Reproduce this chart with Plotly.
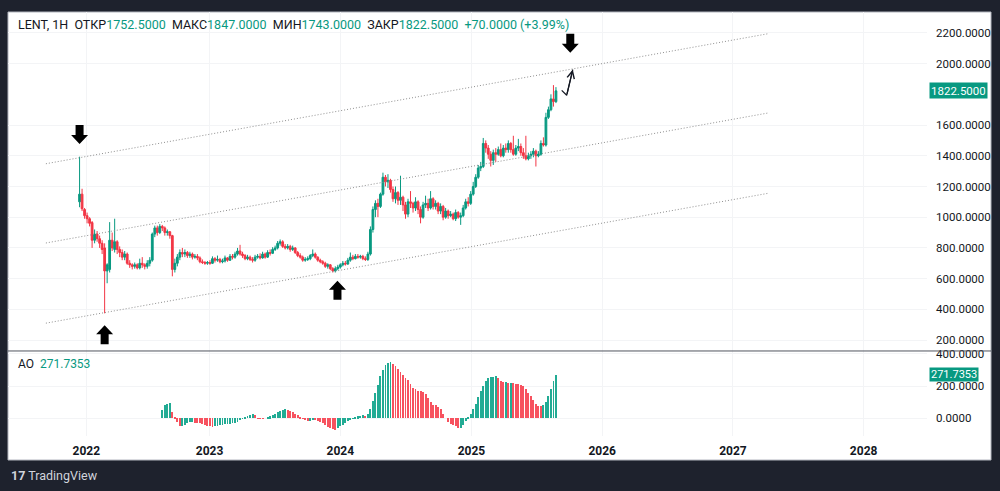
import pandas as pd
import plotly.graph_objects as go

# ------------------------------------------------------------------ data
# weekly bars; MOEX was closed 28 Feb - 20 Mar 2022 (no bars there)
closure = ("2022-02-25", "2022-03-18")
dates = [d for d in pd.date_range("2021-12-13", "2025-08-25", freq="7D")
         if not (pd.Timestamp(closure[0]) <= d <= pd.Timestamp(closure[1]))]

opens = [
    1100, 1150, 1050, 1010, 990, 965, 850, 890, 860, 830,
    800, 650, 660, 850, 790, 840, 790, 770, 740, 760,
    700, 690, 680, 690, 670, 700, 690, 680, 700, 720,
    890, 930, 900, 940, 930, 900, 905, 880, 660, 700,
    740, 770, 760, 770, 750, 760, 740, 745, 735, 710,
    705, 700, 705, 700, 730, 720, 725, 710, 715, 735,
    720, 745, 740, 760, 780, 760, 750, 730, 740, 725,
    720, 740, 745, 735, 760, 740, 770, 765, 790, 800,
    830, 840, 810, 800, 810, 790, 800, 770, 750, 740,
    720, 725, 730, 750, 760, 740, 720, 710, 700, 680,
    690, 665, 650, 665, 675, 690, 700, 695, 720, 740,
    730, 745, 740, 745, 730, 725, 760, 920, 1050, 1090,
    1070, 1150, 1260, 1230, 1240, 1180, 1120, 1160, 1110, 1130,
    1080, 1020, 1100, 1090, 1060, 1100, 1050, 1000, 1080, 1090,
    1060, 1120, 1070, 1090, 1040, 1070, 1000, 1040, 1010, 1020,
    990, 1030, 1000, 1010, 1060, 1100, 1090, 1150, 1200, 1260,
    1320, 1330, 1480, 1450, 1410, 1370, 1420, 1410, 1440, 1400,
    1450, 1440, 1480, 1440, 1410, 1450, 1460, 1420, 1400, 1380,
    1400, 1410, 1430, 1400, 1410, 1480, 1470, 1650, 1700, 1770,
    1752.5,
]
closes = [
    1150, 1055, 1010, 990, 960, 850, 890, 860, 830, 790,
    650, 690, 850, 800, 840, 790, 770, 740, 760, 700,
    690, 680, 690, 670, 700, 690, 680, 700, 720, 890,
    930, 900, 940, 930, 900, 905, 880, 660, 700, 740,
    770, 760, 770, 750, 760, 740, 745, 735, 710, 705,
    700, 705, 700, 730, 720, 725, 710, 715, 735, 720,
    745, 740, 760, 780, 760, 750, 730, 740, 725, 720,
    740, 745, 735, 760, 740, 770, 765, 790, 800, 830,
    840, 810, 800, 810, 790, 800, 770, 750, 740, 720,
    725, 730, 750, 760, 740, 720, 710, 700, 680, 690,
    665, 650, 665, 675, 690, 700, 695, 720, 740, 730,
    745, 740, 745, 730, 725, 760, 920, 1050, 1090, 1070,
    1150, 1260, 1230, 1240, 1180, 1120, 1160, 1110, 1130, 1080,
    1020, 1100, 1090, 1060, 1100, 1050, 1000, 1080, 1090, 1060,
    1120, 1070, 1090, 1040, 1070, 1000, 1040, 1010, 1020, 990,
    1030, 1000, 1010, 1060, 1100, 1090, 1150, 1200, 1260, 1320,
    1330, 1480, 1450, 1410, 1370, 1420, 1410, 1440, 1400, 1450,
    1440, 1480, 1440, 1410, 1450, 1460, 1420, 1400, 1380, 1400,
    1410, 1430, 1400, 1410, 1480, 1470, 1650, 1700, 1770, 1752.5,
    1822.5,
]
highs = [
    1394, 1185, 1060, 1030, 1000, 975, 920, 910, 880, 850,
    830, 700, 968, 900, 990, 850, 810, 790, 780, 770,
    720, 700, 705, 700, 730, 740, 700, 720, 740, 900,
    945, 945, 955, 950, 940, 920, 910, 885, 730, 760,
    790, 800, 790, 780, 775, 770, 760, 760, 745, 725,
    715, 715, 720, 745, 740, 750, 735, 730, 750, 740,
    760, 760, 775, 800, 820, 775, 760, 755, 750, 740,
    755, 760, 765, 775, 770, 785, 790, 805, 815, 845,
    855, 850, 825, 825, 820, 815, 805, 780, 765, 750,
    740, 745, 760, 790, 770, 745, 730, 720, 710, 700,
    695, 675, 680, 690, 700, 715, 715, 735, 770, 755,
    760, 760, 755, 755, 745, 775, 940, 1070, 1110, 1120,
    1160, 1290, 1275, 1280, 1250, 1200, 1200, 1170, 1270, 1140,
    1100, 1120, 1170, 1100, 1130, 1110, 1070, 1100, 1140, 1120,
    1170, 1130, 1110, 1100, 1090, 1080, 1060, 1050, 1040, 1030,
    1050, 1040, 1030, 1080, 1120, 1130, 1170, 1230, 1280, 1340,
    1360, 1516, 1500, 1470, 1430, 1440, 1450, 1460, 1480, 1470,
    1480, 1500, 1490, 1530, 1470, 1510, 1480, 1450, 1530, 1420,
    1430, 1450, 1440, 1430, 1500, 1520, 1680, 1720, 1800, 1860,
    1847,
]
lows = [
    1065, 1040, 990, 960, 940, 800, 830, 840, 800, 760,
    374, 570, 640, 780, 770, 760, 740, 720, 720, 690,
    670, 660, 665, 660, 660, 670, 660, 665, 680, 710,
    870, 880, 890, 910, 880, 880, 860, 615, 640, 680,
    720, 740, 740, 735, 735, 725, 730, 720, 700, 695,
    690, 690, 690, 695, 705, 710, 700, 700, 705, 710,
    715, 725, 730, 750, 750, 735, 720, 720, 715, 705,
    710, 730, 725, 730, 730, 735, 750, 760, 780, 790,
    815, 800, 790, 790, 775, 780, 760, 740, 730, 710,
    710, 715, 720, 740, 730, 710, 700, 690, 670, 665,
    655, 640, 640, 655, 665, 680, 685, 690, 710, 720,
    725, 730, 730, 720, 715, 715, 750, 900, 1000, 1000,
    1060, 1140, 1200, 1190, 1160, 1100, 1090, 1080, 1080, 1040,
    990, 1000, 1060, 1030, 1040, 1020, 960, 990, 1060, 1040,
    1050, 1050, 1050, 1020, 1020, 980, 990, 990, 1000, 980,
    975, 990, 950, 1000, 1050, 1070, 1080, 1140, 1190, 1250,
    1300, 1320, 1420, 1380, 1330, 1340, 1360, 1400, 1390, 1390,
    1420, 1420, 1420, 1400, 1400, 1430, 1400, 1380, 1370, 1370,
    1380, 1390, 1330, 1390, 1400, 1460, 1460, 1640, 1690, 1720,
    1743,
]

# Awesome Oscillator, first value at bar index 33
ao_start = 33
ao_values = [
    52, 80, 90, 94, 40, 5, -25, -50, -48, -40,
    -30, -24, -22, -26, -28, -30, -32, -40, -46, -50,
    -52, -50, -46, -42, -40, -38, -36, -34, -30, -26,
    -20, -10, -2, 8, 16, 22, 24, 18, 2, -2,
    -4, 0, 6, 12, 18, 28, 38, 46, 52, 56,
    54, 48, 40, 30, 18, 6, -4, -12, -18, -14,
    -10, -12, -16, -22, -30, -40, -52, -62, -68, -70,
    -62, -50, -40, -30, -18, -8, 2, 8, 12, 16,
    18, 14, 30, 60, 110, 160, 210, 260, 300, 330,
    345, 350, 340, 325, 305, 290, 270, 250, 235, 215,
    190, 180, 170, 168, 166, 150, 125, 100, 85, 80,
    70, 60, 30, 0, -20, -36, -44, -50, -60, -58,
    -40, -18, 5, 30, 60, 90, 130, 170, 200, 230,
    250, 255, 258, 260, 248, 232, 224, 224, 222, 222,
    218, 216, 214, 210, 200, 180, 160, 140, 115, 90,
    78, 76, 80, 100, 140, 180, 230, 271.7353,
]

year_ticks = [2022, 2023, 2024, 2025, 2026, 2027, 2028]
price_ticks = [200, 400, 600, 800, 1000, 1200, 1400, 1600, 2000, 2200]
ao_ticks = [0, 200, 400]

# drawn channel (three parallel dotted lines)
channel_dates = ["2021-09-10", "2027-04-08"]
channel_upper = [1348, 2194]
channel_middle = [832, 1678]
channel_lower = [310, 1155]

# block arrows (tip position)
arrow_marks = [
    ("2021-12-13", 1477, "down"),
    ("2022-02-21", 297, "up"),
    ("2023-12-24", 587, "up"),
    ("2025-10-04", 2071, "down"),
]

# hand-drawn projection path
path_dates = ["2025-09-10", "2025-09-24", "2025-10-11"]
path_prices = [1826, 1794, 1961]

header = dict(ticker="LENT, 1H", o="1752.5000", h="1847.0000", l="1743.0000",
              c="1822.5000", chg="+70.0000 (+3.99%)")
last_price = 1822.5
last_ao = 271.7353

# ------------------------------------------------------------------ style
UP, DOWN = "#089981", "#f23645"
AO_UP, AO_DOWN = "#22ab94", "#f7525f"
TXT = "#131722"
FONT = "Roboto, Arial, sans-serif"
W, H = 1000, 491
ML, MR, MT, MB = 8, 9, 8, 31
PW, PH = W - ML - MR, H - MT - MB


def fx(px):
    return (px - ML) / PW


def fy(py):
    return (H - MB - py) / PH


DAY_MS = 86400000
ao_colors = []
for k, v in enumerate(ao_values):
    prev = ao_values[k - 1] if k > 0 else v - 1
    ao_colors.append(AO_UP if v >= prev else AO_DOWN)

fig = go.Figure()

fig.add_trace(go.Candlestick(
    x=dates, open=opens, high=highs, low=lows, close=closes,
    xaxis="x", yaxis="y",
    increasing=dict(line=dict(color=UP, width=1), fillcolor=UP),
    decreasing=dict(line=dict(color=DOWN, width=1), fillcolor=DOWN),
    whiskerwidth=0, showlegend=False, hoverinfo="skip",
))

fig.add_trace(go.Bar(
    x=dates[ao_start:], y=ao_values, marker=dict(color=ao_colors, line=dict(width=0)),
    width=2.5 * DAY_MS, xaxis="x", yaxis="y2", showlegend=False, hoverinfo="skip",
))

for ch in (channel_upper, channel_middle, channel_lower):
    fig.add_trace(go.Scatter(
        x=channel_dates, y=ch, mode="lines", xaxis="x", yaxis="y",
        line=dict(color="#8f8f8f", width=1, dash="1px,2px"),
        showlegend=False, hoverinfo="skip",
    ))

fig.add_trace(go.Scatter(
    x=path_dates, y=path_prices, mode="lines", xaxis="x", yaxis="y",
    line=dict(color="#131722", width=1.2), showlegend=False, hoverinfo="skip",
))


def arrow_path(down):
    s = 1 if down else -1
    pts = [(0, 0), (8.5, 9 * s), (4, 9 * s), (4, 19 * s), (-4, 19 * s),
           (-4, 9 * s), (-8.5, 9 * s)]
    return "M" + " L".join(f"{x},{y}" for x, y in pts) + " Z"


shapes = [
    dict(type="rect", xref="paper", yref="paper", x0=0, x1=1, y0=0, y1=1,
         fillcolor="white", line=dict(color="#b2b5be", width=1), layer="below"),
    dict(type="line", xref="paper", yref="paper", x0=0, x1=1,
         y0=fy(350), y1=fy(350), line=dict(color="#50535e", width=1)),
]
for d, p, kind in arrow_marks:
    shapes.append(dict(type="path", xref="x", yref="y", xsizemode="pixel",
                       ysizemode="pixel", xanchor=d, yanchor=p,
                       path=arrow_path(kind == "down"), fillcolor="#000000",
                       line=dict(width=0)))

teal = UP
head = (f"{header['ticker']}\u00a0\u00a0ОТКР<span style='color:{teal}'>{header['o']}</span>"
        f"\u00a0\u00a0МАКС<span style='color:{teal}'>{header['h']}</span>"
        f"\u00a0\u00a0МИН<span style='color:{teal}'>{header['l']}</span>"
        f"\u00a0\u00a0ЗАКР<span style='color:{teal}'>{header['c']}</span>"
        f"\u00a0\u00a0<span style='color:{teal}'>{header['chg']}</span>")

annotations = [
    dict(xref="paper", yref="paper", x=fx(16), y=fy(21), xanchor="left",
         yanchor="middle", text=head, showarrow=False,
         font=dict(size=12.5, color=TXT, family=FONT)),
    dict(xref="paper", yref="paper", x=fx(16), y=fy(363), xanchor="left",
         yanchor="middle", showarrow=False,
         text=f"AO\u00a0\u00a0<span style='color:{teal}'>{last_ao:.4f}</span>",
         font=dict(size=12, color=TXT, family=FONT)),
    dict(xref="paper", yref="y", x=fx(929), y=last_price, xanchor="left",
         yanchor="middle", text=f"{last_price:.4f}", showarrow=False,
         bgcolor=UP, borderpad=1, height=13,
         font=dict(size=11.5, color="white", family=FONT)),
    dict(xref="paper", yref="y2", x=fx(929), y=last_ao, xanchor="left",
         yanchor="middle", text=f"{last_ao:.4f}", showarrow=False,
         bgcolor=UP, borderpad=1, height=11,
         font=dict(size=11, color="white", family=FONT)),
    dict(xref="x", yref="y", x=path_dates[2], y=path_prices[2],
         axref="x", ayref="y", ax=path_dates[1], ay=path_prices[1],
         text="", showarrow=True, arrowhead=5, arrowsize=1.2, arrowwidth=1.2,
         arrowcolor="#131722", standoff=0),
    dict(xref="paper", yref="paper", x=fx(9), y=fy(476), xanchor="left",
         yanchor="middle", showarrow=False,
         text="<b>17</b> TradingView",
         font=dict(size=12.5, color="#d1d4dc", family=FONT)),
]

x_left = pd.Timestamp("2025-01-01") - pd.Timedelta(days=1314.8)
x_right = pd.Timestamp("2025-01-01") + pd.Timedelta(days=1271.9)

fig.update_layout(
    width=W, height=H, margin=dict(l=ML, r=MR, t=MT, b=MB, pad=0),
    paper_bgcolor="#1e222d", plot_bgcolor="rgba(0,0,0,0)",
    font=dict(family=FONT, color=TXT, size=12),
    showlegend=False, boxgap=0.3, boxgroupgap=0, bargap=0,
    shapes=shapes, annotations=annotations,
    xaxis=dict(
        domain=[0, fx(927)], anchor="y2", type="date",
        range=[x_left, x_right],
        rangebreaks=[dict(bounds=list(closure))],
        rangeslider=dict(visible=False),
        tickvals=[f"{y}-01-01" for y in year_ticks],
        ticktext=[f"<b>{y}</b>" for y in year_ticks],
        tickfont=dict(size=12, color=TXT), ticks="", ticklabelstandoff=6,
        showgrid=True, gridcolor="#f3f4f6", zeroline=False, showline=False,
    ),
    yaxis=dict(
        domain=[fy(350), 1], anchor="x", side="right", range=[129, 2336],
        tickvals=price_ticks, ticktext=[f"{v:.4f}" for v in price_ticks],
        tickfont=dict(size=11.5, color=TXT), ticks="", ticklabelstandoff=8,
        showgrid=True, gridcolor="#f3f4f6", zeroline=False, showline=False,
    ),
    yaxis2=dict(
        domain=[fy(436), fy(350)], anchor="x", side="right", range=[-111, 418],
        tickvals=ao_ticks, ticktext=[f"{v:.4f}" for v in ao_ticks],
        tickfont=dict(size=11.5, color=TXT), ticks="", ticklabelstandoff=8,
        showgrid=True, gridcolor="#f3f4f6", zeroline=False, showline=False,
    ),
)

fig.write_html("out.html")
